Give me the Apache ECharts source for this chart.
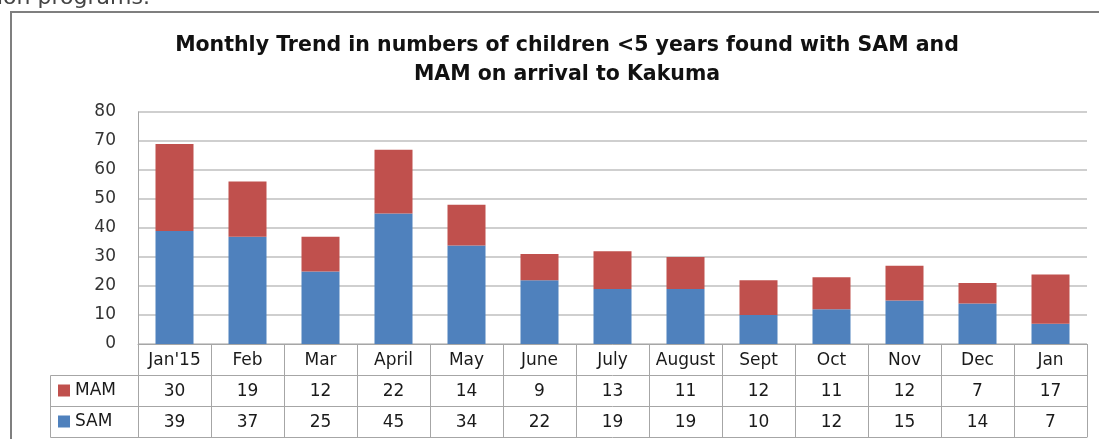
<!DOCTYPE html>
<html>
<head>
<meta charset="utf-8">
<script src="https://cdn.jsdelivr.net/npm/echarts@6/dist/echarts.min.js"></script>
<style>
  html, body { margin: 0; padding: 0; background: #fff; }
  #chart { width: 1099px; height: 439px; }
</style>
</head>
<body>
<div id="chart"></div>
<script>
  // monthly counts
  const months = ["Jan'15", 'Feb', 'Mar', 'April', 'May', 'June', 'July', 'August', 'Sept', 'Oct', 'Nov', 'Dec', 'Jan'];
  const mam = [30, 19, 12, 22, 14, 9, 13, 11, 12, 11, 12, 7, 17];
  const sam = [39, 37, 25, 45, 34, 22, 19, 19, 10, 12, 15, 14, 7];
  const yTicks = [0, 80, 10];

  const FONT = '"DejaVu Sans", "Open Sans", sans-serif';
  const BLUE = '#4f81bd';
  const RED = '#c0504d';
  const LINE = '#a6a6a6';

  const chart = echarts.init(document.getElementById('chart'));

  // one x axis per table row, stacked under the plot with offsets
  function rowAxis(data, offset, showLabel) {
    return {
      type: 'category',
      data: data,
      position: 'bottom',
      offset: offset,
      axisLine: { show: true, lineStyle: { color: LINE, width: 1 } },
      axisTick: { show: false },
      axisLabel: {
        show: showLabel,
        interval: 0,
        margin: 8,
        color: '#1a1a1a',
        fontFamily: FONT,
        fontSize: 17,
      },
    };
  }

  chart.setOption({
    animation: false,
    backgroundColor: '#fff',
    textStyle: { fontFamily: FONT },
    title: {
      text: 'Monthly Trend in numbers of children <5 years found with SAM and\nMAM on arrival to Kakuma',
      left: 562,
      top: 26,
      textAlign: 'center',
      textStyle: {
        fontFamily: FONT,
        fontWeight: 'bold',
        fontSize: 20.5,
        lineHeight: 29,
        color: '#111',
      },
    },
    legend: {
      orient: 'vertical',
      left: 53,
      top: 377,
      itemWidth: 12,
      itemHeight: 12,
      itemGap: 14,
      icon: 'rect',
      data: ['MAM', 'SAM'],
      textStyle: {
        fontFamily: FONT,
        fontSize: 17,
        color: '#1a1a1a',
        width: 60,
        align: 'center',
      },
    },
    grid: { left: 138, right: 12, top: 112, bottom: 95, containLabel: false },
    xAxis: [
      {
        type: 'category',
        data: months,
        position: 'bottom',
        axisLine: { show: true, lineStyle: { color: LINE, width: 1 } },
        axisTick: { show: true, interval: 0, length: 93, lineStyle: { color: LINE, width: 1 } },
        axisLabel: { interval: 0, margin: 8, color: '#1a1a1a', fontFamily: FONT, fontSize: 17 },
      },
      rowAxis(mam.map(String), 31, true),
      rowAxis(sam.map(String), 62, true),
      rowAxis(months, 93, false),
    ],
    yAxis: {
      type: 'value',
      min: yTicks[0],
      max: yTicks[1],
      interval: yTicks[2],
      axisLine: { show: true, lineStyle: { color: LINE, width: 1 } },
      axisTick: { show: false },
      axisLabel: { margin: 22, color: '#333', fontFamily: FONT, fontSize: 17 },
      splitLine: { lineStyle: { color: '#bfbfbf', width: 1.5 } },
    },
    series: [
      {
        name: 'SAM',
        type: 'bar',
        stack: 'total',
        barWidth: 38,
        itemStyle: { color: BLUE },
        data: sam,
      },
      {
        name: 'MAM',
        type: 'bar',
        stack: 'total',
        barWidth: 38,
        itemStyle: { color: RED },
        data: mam,
      },
    ],
    graphic: [
      // cut-off line of the surrounding document
      {
        type: 'text',
        left: -3,
        top: -13,
        style: { text: 'ion programs.', font: '22px ' + FONT, fill: '#444' },
      },
      // outer chart frame
      {
        type: 'rect',
        shape: { x: 11, y: 12, width: 1100, height: 440 },
        style: { fill: 'none', stroke: '#7f7f7f', lineWidth: 2 },
      },
      // legend cells of the data table
      {
        type: 'polyline',
        shape: { points: [[138, 375.5], [50.5, 375.5], [50.5, 437.5], [138, 437.5]] },
        style: { fill: 'none', stroke: LINE, lineWidth: 1 },
      },
      {
        type: 'line',
        shape: { x1: 50.5, y1: 406.5, x2: 138, y2: 406.5 },
        style: { stroke: LINE, lineWidth: 1 },
      },
    ],
  });

  window.addEventListener('resize', () => chart.resize());
</script>
</body>
</html>
